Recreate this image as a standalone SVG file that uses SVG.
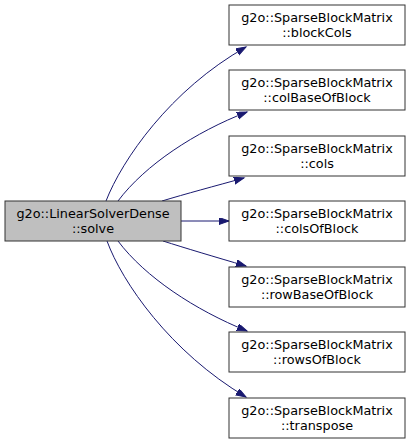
<svg xmlns="http://www.w3.org/2000/svg" width="411" height="444" viewBox="0 0 411 444">
<style>
.n rect{fill:#ffffff;stroke:#333333;stroke-width:1}
.n.cur rect{fill:#bfbfbf}
.n text{font-family:"DejaVu Sans",sans-serif;font-size:12.8px;fill:#000000;text-anchor:middle}
.e path{fill:none;stroke:#191970;stroke-width:1}
</style>
<defs>
<marker id="ah" markerUnits="userSpaceOnUse" markerWidth="12" markerHeight="10" refX="10" refY="3.5" orient="auto">
<path d="M0,0 L10,3.5 L0,7 Z" fill="#191970" stroke="#191970" stroke-width="1"/>
</marker>
</defs>
<rect x="0" y="0" width="411" height="444" fill="#ffffff"/>
<g id="connectors" class="e">
<path d="M106,201 C122,160 170,90 246,47" marker-end="url(#ah)"/>
<path d="M118,201 C145,165 195,132 247,112" marker-end="url(#ah)"/>
<path d="M162,201 C185,194 215,186 244,178" marker-end="url(#ah)"/>
<path d="M181,221 L229,221" marker-end="url(#ah)"/>
<path d="M163,241 C185,248 215,257 246,266" marker-end="url(#ah)"/>
<path d="M118,241 C145,277 195,310 247,331" marker-end="url(#ah)"/>
<path d="M107,241 C122,282 170,352 246,397" marker-end="url(#ah)"/>
</g>
<g id="node_solve" class="n cur">
<rect x="5" y="201" width="176" height="40"/>
<text x="93" y="218">g2o::LinearSolverDense</text>
<text x="93" y="233">::solve</text>
</g>
<g id="node_blockCols" class="n">
<rect x="229" y="5" width="176" height="40"/>
<text x="317" y="21.5">g2o::SparseBlockMatrix</text>
<text x="317" y="36.5">::blockCols</text>
</g>
<g id="node_colBaseOfBlock" class="n">
<rect x="229" y="70" width="176" height="40"/>
<text x="317" y="86.5">g2o::SparseBlockMatrix</text>
<text x="317" y="101.5">::colBaseOfBlock</text>
</g>
<g id="node_cols" class="n">
<rect x="229" y="136" width="176" height="40"/>
<text x="317" y="152.5">g2o::SparseBlockMatrix</text>
<text x="317" y="167.5">::cols</text>
</g>
<g id="node_colsOfBlock" class="n">
<rect x="229" y="201" width="176" height="40"/>
<text x="317" y="217.5">g2o::SparseBlockMatrix</text>
<text x="317" y="232.5">::colsOfBlock</text>
</g>
<g id="node_rowBaseOfBlock" class="n">
<rect x="229" y="267" width="176" height="40"/>
<text x="317" y="283.5">g2o::SparseBlockMatrix</text>
<text x="317" y="298.5">::rowBaseOfBlock</text>
</g>
<g id="node_rowsOfBlock" class="n">
<rect x="229" y="332" width="176" height="40"/>
<text x="317" y="348.5">g2o::SparseBlockMatrix</text>
<text x="317" y="363.5">::rowsOfBlock</text>
</g>
<g id="node_transpose" class="n">
<rect x="229" y="398" width="176" height="40"/>
<text x="317" y="414.5">g2o::SparseBlockMatrix</text>
<text x="317" y="429.5">::transpose</text>
</g>
</svg>
